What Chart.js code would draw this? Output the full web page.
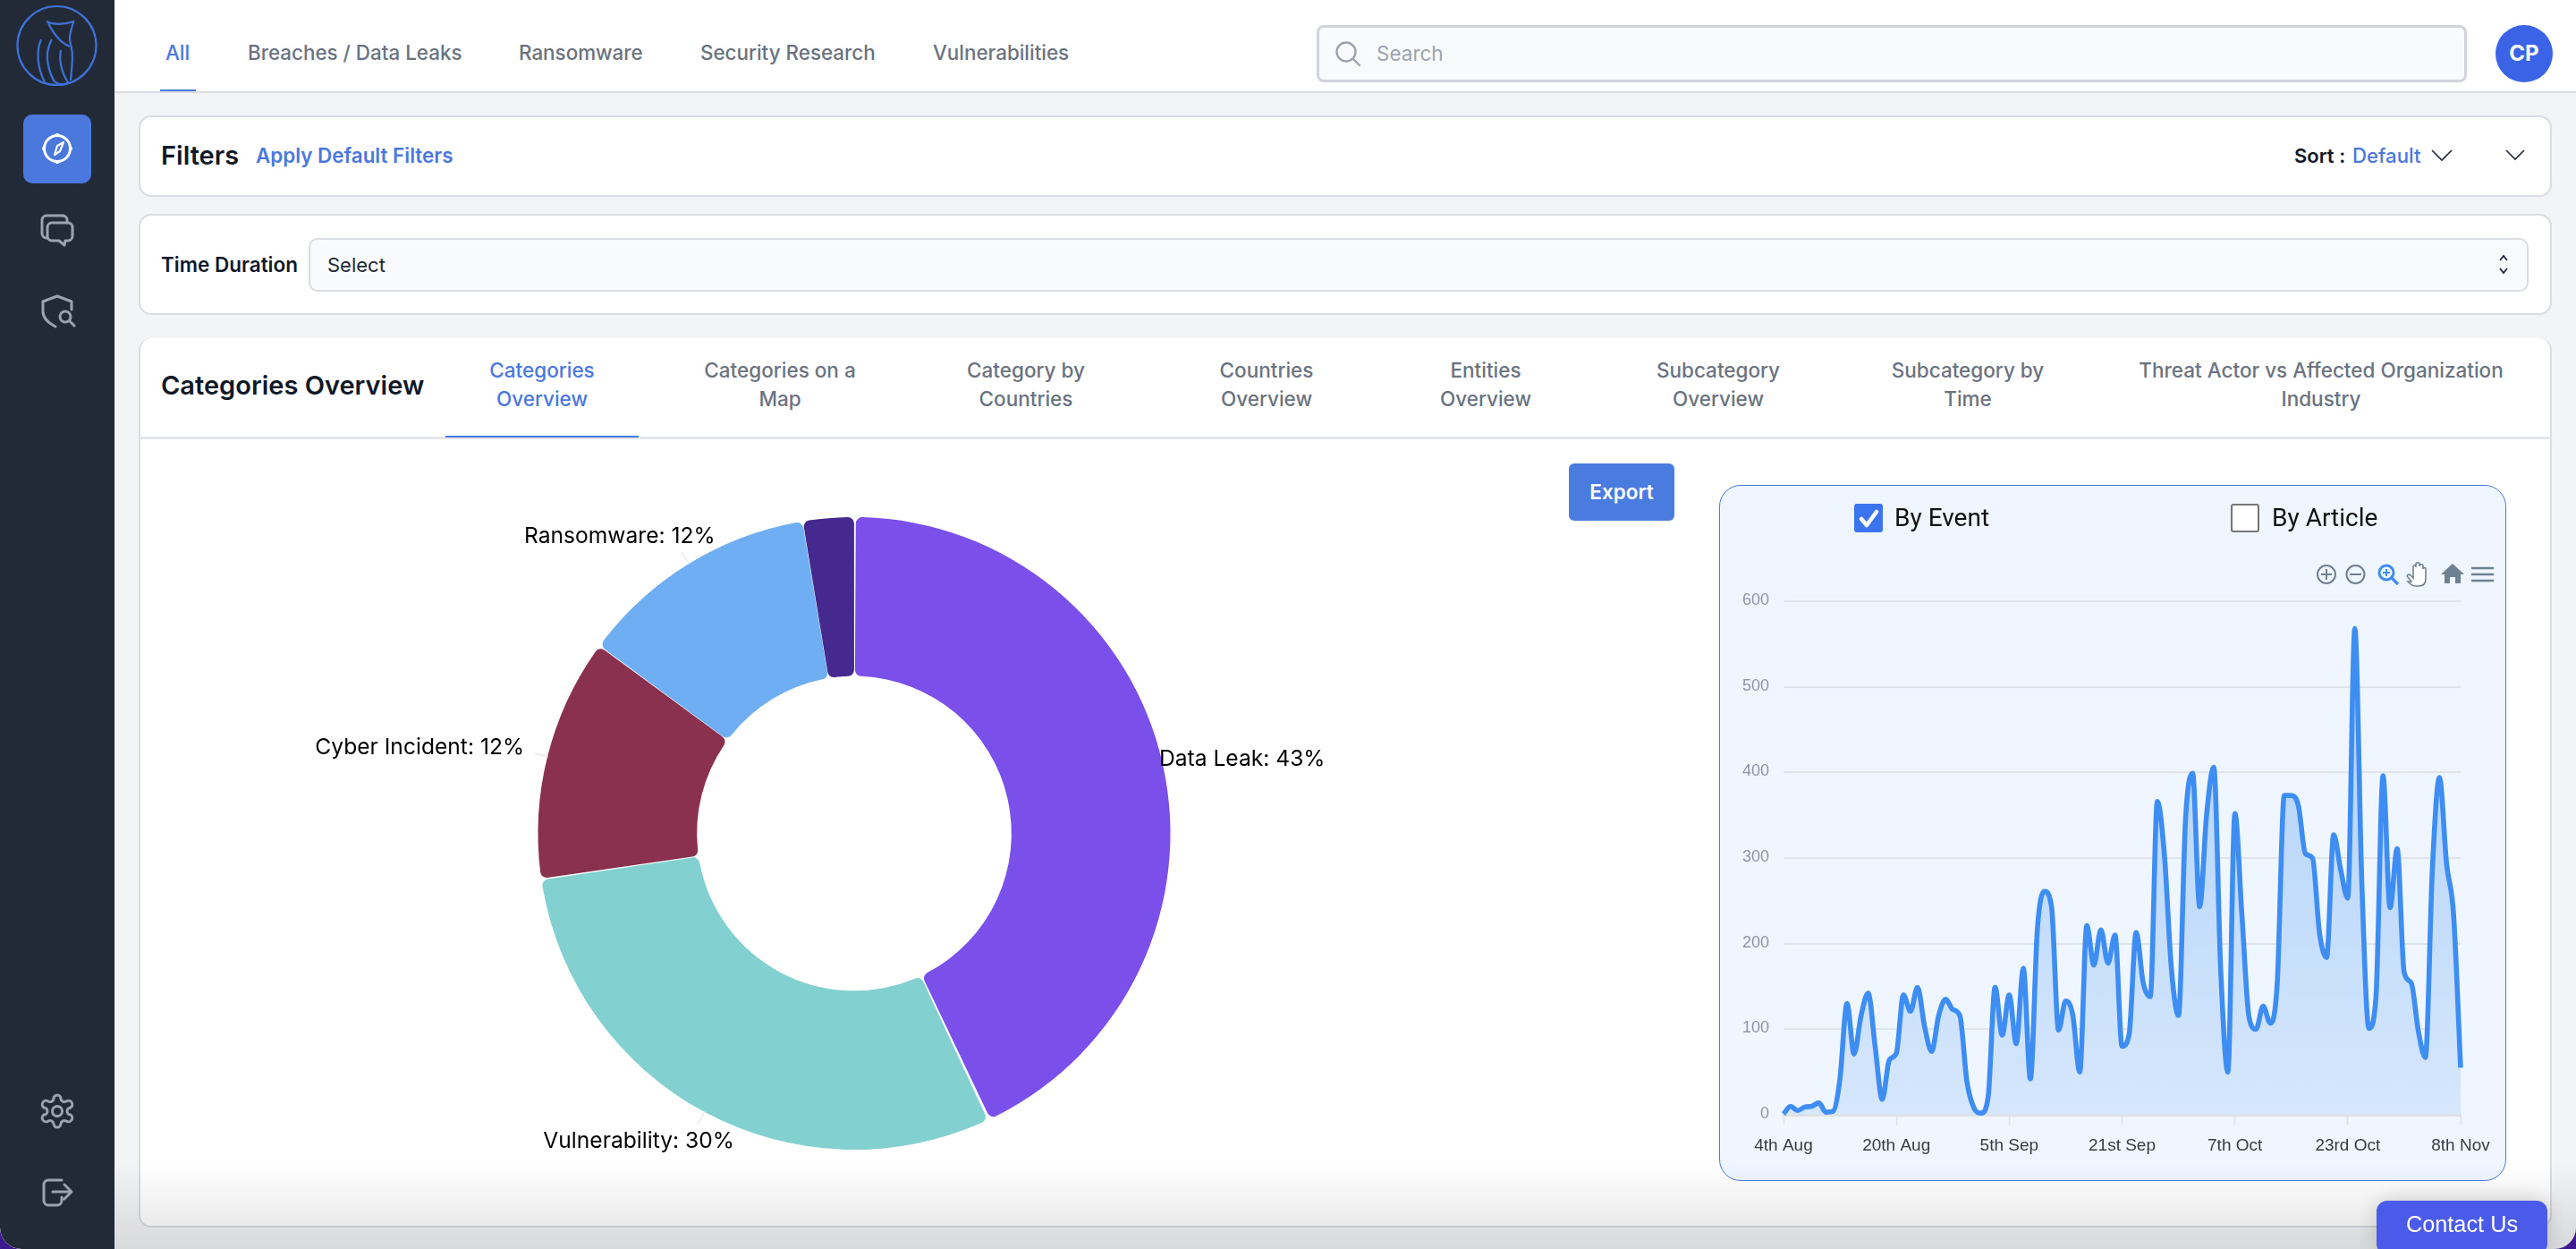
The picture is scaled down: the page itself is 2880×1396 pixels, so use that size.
<!DOCTYPE html>
<html>
<head>
<meta charset="utf-8">
<title>Categories Overview</title>
<script src="https://cdn.jsdelivr.net/npm/chart.js@4.4.3/dist/chart.umd.min.js"></script>
<style>
html,body{margin:0;padding:0;background:#3b1a8f;}
#page{position:relative;width:2880px;height:1396px;overflow:hidden;background:#f3f4f6;border-radius:0 0 24px 24px;font-family:Inter,sans-serif;color:#111827;}
#page div{position:absolute;white-space:nowrap;}
.nav{top:39px;line-height:40px;font-size:22.4px;font-weight:500;color:#6b7280;}
.card{background:#fff;border:2px solid #d9dce1;border-radius:14px;box-sizing:border-box;}
.tab{width:440px;text-align:center;font-size:22.5px;font-weight:500;color:#6b7280;line-height:31.7px;top:398px;}
svg{position:absolute;overflow:visible;fill:none;}
.side{stroke:#9ca3af;stroke-width:3;stroke-linecap:round;stroke-linejoin:round;}
</style>
</head>
<body>
<div id="page">
  <!-- sidebar -->
  <div style="left:0;top:0;width:128px;height:1396px;background:#222a38;border-radius:0 0 0 24px;"></div>
  <svg style="left:0;top:0" width="128" height="400" stroke="#3f72d8" stroke-width="2.2">
    <circle cx="63.5" cy="51" r="44"/>
    <path d="M52 24c8 4 20 3 30 0c-2 10-6 16-3 26c3 9 2 20 0 40"/>
    <path d="M54 26c6 12 14 22 24 26M58 44c-8 14-6 30 2 46c4 4 10 6 18 2"/>
    <path d="M50 92c-8-16-10-34-4-48"/>
    <path d="M68 56c-2 10 0 24 8 36"/>
  </svg>
  <div style="left:26px;top:128px;width:76px;height:77px;background:#4a78dc;border-radius:10px;"></div>
  <svg style="left:0;top:0" width="128" height="400" stroke="#fff" stroke-width="3" stroke-linejoin="round">
    <circle cx="64" cy="166" r="14.5"/>
    <path d="M71 159l-4 10l-6 4l3-10z" stroke-width="2.2"/>
    <path d="M64 149v4M64 179v4M47 166h4M77 166h4"/>
  </svg>
  <svg class="side" style="left:0;top:0" width="128" height="400">
    <path d="M70 241h-18a5 5 0 0 0-5 5v15a5 5 0 0 0 5 5h1"/>
    <path d="M70 241a5 5 0 0 1 5 5v3"/>
    <path d="M58 249h18a5 5 0 0 1 5 5v10a5 5 0 0 1-5 5h-3l-1 5l-6-5h-8a5 5 0 0 1-5-5v-10a5 5 0 0 1 5-5z"/>
    <path d="M64 331l16 6v9M64 331l-16 6v11c0 7 6 13 14 17"/>
    <circle cx="73" cy="354" r="6"/><path d="M78 359l5 5"/>
  </svg>
  <svg class="side" style="left:0;top:1200px" width="128" height="180">
    <circle cx="64" cy="42" r="5.5"/>
    <path d="M60 28a4 4 0 0 1 8 0a4 4 0 0 0 6 3a4 4 0 0 1 5 7a4 4 0 0 0 0 8a4 4 0 0 1-5 7a4 4 0 0 0-6 3a4 4 0 0 1-8 0a4 4 0 0 0-6-3a4 4 0 0 1-5-7a4 4 0 0 0 0-8a4 4 0 0 1 5-7a4 4 0 0 0 6-3z"/>
    <path d="M69 119h-15a5 5 0 0 0-5 5v18a5 5 0 0 0 5 5h10a5 5 0 0 0 5-5v-4M59 132h21M72 124l8 8l-8 8"/>
  </svg>

  <!-- top nav -->
  <div style="left:128px;top:0;width:2752px;height:102px;background:#fff;border-bottom:2px solid #d9dce1;"></div>
  <div class="nav" style="left:185px;color:#4a77e0;">All</div>
  <div style="left:179px;top:100px;width:40px;height:2px;background:#4a77e0;"></div>
  <div class="nav" style="left:277px;">Breaches / Data Leaks</div>
  <div class="nav" style="left:580px;">Ransomware</div>
  <div class="nav" style="left:783px;">Security Research</div>
  <div class="nav" style="left:1043px;">Vulnerabilities</div>
  <div style="left:1472px;top:28px;width:1286px;height:64px;box-sizing:border-box;background:#f9fafb;border:3px solid #d1d5db;border-radius:8px;"></div>
  <svg style="left:0;top:0" width="1600" height="100" stroke="#9ca3af" stroke-width="2.4" stroke-linecap="round"><circle cx="1505" cy="58" r="10.5"/><path d="M1513 66l7 7"/></svg>
  <div style="left:1539px;top:40px;line-height:40px;font-size:22.5px;color:#9ca3af;">Search</div>
  <div style="left:2790px;top:28px;width:64px;height:64px;border-radius:50%;background:#3b63e6;color:#fff;text-align:center;line-height:64px;font-size:24px;font-weight:700;">CP</div>

  <!-- filters -->
  <div class="card" style="left:155px;top:129px;width:2698px;height:91px;"></div>
  <div style="left:180px;top:154px;line-height:40px;font-size:29px;font-weight:600;">Filters</div>
  <div style="left:286px;top:154px;line-height:40px;font-size:22.4px;font-weight:600;color:#4a77e0;">Apply Default Filters</div>
  <div style="left:2565px;top:154px;line-height:40px;font-size:22px;font-weight:600;">Sort :</div>
  <div style="left:2630px;top:154px;line-height:40px;font-size:22.2px;font-weight:500;color:#4a77e0;">Default</div>
  <svg style="left:0;top:0" width="2880" height="340" stroke="#1f2937" stroke-width="1.6">
    <path d="M2719 168l11 11l11-11M2802 168l10 10l10-10"/>
  </svg>

  <!-- time duration -->
  <div class="card" style="left:155px;top:239px;width:2698px;height:113px;"></div>
  <div style="left:180px;top:276px;line-height:40px;font-size:22.5px;font-weight:600;">Time Duration</div>
  <div style="left:345px;top:266px;width:2482px;height:60px;box-sizing:border-box;background:#f9fafb;border:2px solid #d9dce1;border-radius:10px;"></div>
  <div style="left:366px;top:276px;line-height:40px;font-size:22px;color:#1f2937;">Select</div>
  <svg style="left:0;top:0" width="2880" height="340" stroke="#1f2937" stroke-width="1.8">
    <path d="M2795 291l4-5l4 5M2795 300l4 5l4-5"/>
  </svg>

  <!-- main card -->
  <div class="card" style="left:155px;top:378px;width:2698px;height:994px;border-top:0;"></div>
  <div style="left:156px;top:488px;width:2696px;height:3px;background:#e5e7eb;"></div>
  <div style="left:180px;top:411px;line-height:40px;font-size:29px;font-weight:600;">Categories Overview</div>
  <div class="tab" style="left:386px;color:#4a77e0;">Categories<br>Overview</div>
  <div style="left:498px;top:487px;width:216px;height:2px;background:#4a77e0;"></div>
  <div class="tab" style="left:652px;">Categories on a<br>Map</div>
  <div class="tab" style="left:927px;">Category by<br>Countries</div>
  <div class="tab" style="left:1196px;">Countries<br>Overview</div>
  <div class="tab" style="left:1441px;">Entities<br>Overview</div>
  <div class="tab" style="left:1701px;">Subcategory<br>Overview</div>
  <div class="tab" style="left:1980px;">Subcategory by<br>Time</div>
  <div class="tab" style="left:2375px;">Threat Actor vs Affected Organization<br>Industry</div>

  <div style="left:1754px;top:518px;width:118px;height:64px;background:#4a7bdf;border-radius:6px;color:#fff;text-align:center;line-height:64px;font-size:22.5px;font-weight:600;">Export</div>

  <!-- donut -->
  <div style="left:255px;top:510px;width:1400px;height:843px;"><canvas id="donut"></canvas></div>

  <!-- line panel -->
  <div style="left:1922px;top:542px;width:880px;height:778px;box-sizing:border-box;background:#eff6ff;border:1.5px solid #4a7bdf;border-radius:24px;"></div>
  <div style="left:2073px;top:563px;width:32px;height:32px;background:#3b74ee;border-radius:3px;"></div>
  <svg style="left:0;top:0" width="2880" height="700" stroke="#fff" stroke-width="4.5" stroke-linecap="round" stroke-linejoin="round"><path d="M2081 580l6 7l11-15"/></svg>
  <div style="left:2118px;top:559px;line-height:40px;font-size:28px;font-family:Roboto,sans-serif;color:#111;">By Event</div>
  <div style="left:2494px;top:563px;width:32px;height:32px;box-sizing:border-box;background:#fff;border:2px solid #767676;border-radius:3px;"></div>
  <div style="left:2540px;top:559px;line-height:40px;font-size:28px;font-family:Roboto,sans-serif;color:#111;">By Article</div>
  <svg style="left:0;top:0" width="2880" height="700" stroke="#6e8192" stroke-width="2">
    <circle cx="2601" cy="642" r="10"/><path d="M2595 642h12M2601 636v12"/>
    <circle cx="2633.5" cy="642" r="10"/><path d="M2627 642h13"/>
    <circle cx="2668" cy="640" r="8" stroke="#3e8df3" stroke-width="3"/><path d="M2664 640h8M2668 636v8" stroke="#3e8df3"/><path d="M2674 646l7 7" stroke="#3e8df3" stroke-width="3.4"/>
    <path d="M2696 650l-4-5c-2-2 1-4 3-2l3 3v-12c0-3 3-3 3 0v-3c0-3 4-3 4 0v2c0-3 4-3 4 0v3c0-2 3-2 3 0v11c0 6-3 8-8 8h-4c-3 0-5-2-8-5z" stroke-width="1.6" fill="#fff"/>
    <path d="M2742 630l-13 12h4v10h6v-7h6v7h6v-10h4z" fill="#6e8192" stroke="none"/>
    <path d="M2763 635h25M2763 642h25M2763 649h25" stroke-width="2.6"/>
  </svg>
  <div style="left:1930px;top:650px;width:860px;height:660px;"><canvas id="trend"></canvas></div>

  <!-- bottom shade + contact -->
  <div style="left:128px;top:1300px;width:2752px;height:96px;background:linear-gradient(rgba(0,0,0,0),rgba(0,0,0,.11));pointer-events:none;"></div>
  <div style="left:2657px;top:1342px;width:191px;height:60px;background:#4a5ae9;border-radius:12px;box-shadow:0 0 24px rgba(0,0,0,.18);color:#fff;text-align:center;line-height:52px;font-size:25.3px;font-family:'Liberation Sans',sans-serif;">Contact Us</div>
</div>

<script>
// donut data
const sliceNames = ['Data Leak', 'Vulnerability', 'Cyber Incident', 'Ransomware', 'Other'];
const sliceShares = [43.0, 29.7, 12.4, 12.3, 2.6];
const sliceColors = ['#7b4fea', '#82d1d0', '#8a3150', '#6faef2', '#46298f'];

// line data, one value per day from 4th Aug to 8th Nov
const eventCounts = [
  1, 10, 5, 9, 10, 14, 3, 4, 42, 130, 71, 116, 142, 79, 18, 64,
  72, 140, 121, 149, 103, 74, 116, 135, 123, 116, 39, 8, 2, 20, 149, 93,
  140, 83, 171, 42, 218, 261, 243, 99, 133, 117, 50, 221, 175, 216, 177, 210,
  80, 94, 213, 154, 138, 366, 304, 170, 116, 345, 399, 243, 352, 406, 166, 50,
  352, 232, 114, 100, 127, 107, 154, 373, 373, 361, 305, 300, 212, 184, 327, 286,
  253, 568, 269, 101, 138, 396, 242, 311, 166, 154, 98, 67, 288, 394, 294, 234,
  55
];
const dateTicks = ['4th Aug', '20th Aug', '5th Sep', '21st Sep', '7th Oct', '23rd Oct', '8th Nov'];
const daysPerTick = 16;
const yTicks = [0, 100, 200, 300, 400, 500, 600];

const dayLabels = eventCounts.map((_, i) => i % daysPerTick === 0 ? dateTicks[i / daysPerTick] : '');

// labels beside the donut: offset from the rim point of each slice
const labelPlacement = [
  {dx: -3, dy: -6, align: 'left'},
  {dx: -74, dy: 34, align: 'center'},
  {dx: -27, dy: -10, align: 'right'},
  {dx: -78, dy: -31, align: 'center'},
  null
];

const sliceLabels = {
  id: 'sliceLabels',
  afterDatasetsDraw(chart){
    const c = chart.ctx;
    chart.getDatasetMeta(0).data.forEach((arc, i) => {
      const place = labelPlacement[i];
      if(!place) return;
      const {x, y, startAngle, endAngle, outerRadius} = arc.getProps(['x','y','startAngle','endAngle','outerRadius'], true);
      const mid = (startAngle + endAngle) / 2;
      const ax = x + Math.cos(mid) * outerRadius;
      const ay = y + Math.sin(mid) * outerRadius;
      c.save();
      c.strokeStyle = '#dddddd';
      c.lineWidth = 1;
      c.beginPath();
      c.moveTo(ax, ay);
      c.lineTo(ax + Math.cos(mid) * 16, ay + Math.sin(mid) * 16);
      c.stroke();
      c.fillStyle = '#000';
      c.font = '24.6px Inter';
      c.textAlign = place.align;
      c.textBaseline = 'middle';
      c.fillText(`${sliceNames[i]}: ${Math.round(sliceShares[i])}%`, ax + place.dx, ay + place.dy);
      c.restore();
    });
  }
};

new Chart(document.getElementById('donut'), {
  type: 'doughnut',
  data: {
    labels: sliceNames,
    datasets: [{data: sliceShares, backgroundColor: sliceColors, borderWidth: 0, borderRadius: 7, spacing: 2}]
  },
  options: {
    responsive: true, maintainAspectRatio: false, animation: false,
    cutout: '49.6%',
    layout: {padding: 68},
    plugins: {legend: {display: false}, tooltip: {enabled: false}}
  },
  plugins: [sliceLabels]
});

function areaFill(ctx){
  const {ctx: c, chartArea} = ctx.chart;
  if(!chartArea) return 'transparent';
  const g = c.createLinearGradient(0, chartArea.top, 0, chartArea.bottom);
  g.addColorStop(0, '#a9cdf8');
  g.addColorStop(1, '#d6e7fc');
  return g;
}

// the axis labels must not push the plot area in
function noAutoPadding(s){
  s.paddingLeft = s.paddingRight = s.paddingTop = s.paddingBottom = 0;
}

new Chart(document.getElementById('trend'), {
  type: 'line',
  data: {
    labels: dayLabels,
    datasets: [{
      data: eventCounts,
      borderColor: '#3e8df3',
      borderWidth: 5.6,
      backgroundColor: areaFill,
      fill: true,
      cubicInterpolationMode: 'monotone',
      pointRadius: 0,
      clip: false
    }]
  },
  options: {
    responsive: true, maintainAspectRatio: false, animation: false,
    layout: {padding: {left: 0, top: 22, right: 39, bottom: 0}},
    plugins: {legend: {display: false}, tooltip: {enabled: false}},
    scales: {
      x: {
        offset: false,
        afterBuildTicks: s => { s.ticks = s.ticks.filter(t => t.value % daysPerTick === 0); },
        afterFit: s => { s.height = 64; noAutoPadding(s); },
        border: {color: '#e0e0e0', width: 3},
        grid: {drawOnChartArea: false, drawTicks: true, tickLength: 11, tickColor: '#dfe1e5', tickWidth: 1.5},
        ticks: {autoSkip: false, maxRotation: 0, padding: 12, color: '#373d3f', font: {family: 'Liberation Sans', size: 19},
          callback(v){ return dayLabels[v]; }}
      },
      y: {
        min: yTicks[0], max: yTicks[yTicks.length - 1],
        afterFit: s => { s.width = 64; noAutoPadding(s); },
        afterBuildTicks: s => { s.ticks = yTicks.map(value => ({value})); },
        border: {display: false},
        grid: {color: '#e1e4e9', lineWidth: 2, drawTicks: false},
        ticks: {padding: 16, labelOffset: -1, color: '#8e94a8', font: {family: 'Liberation Sans', size: 18}}
      }
    }
  }
});
</script>
</body>
</html>
